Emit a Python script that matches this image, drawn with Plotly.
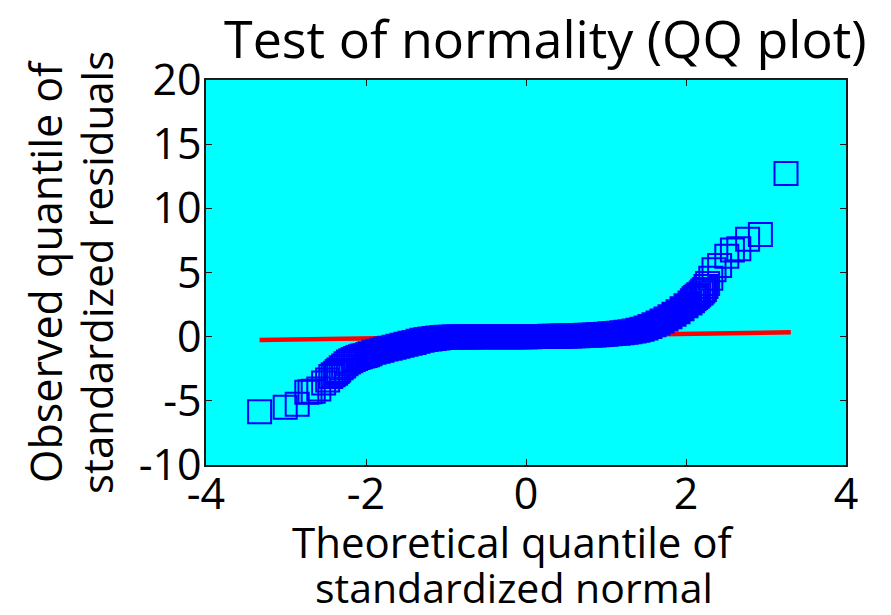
import plotly.graph_objects as go

# ---- data ----
# dense central part of the QQ curve (theoretical quantile, observed quantile)
core_x = [-1.95, -1.90, -1.85, -1.80, -1.75, -1.70, -1.65, -1.60, -1.55, -1.50,
          -1.45, -1.40, -1.35, -1.30, -1.25, -1.20, -1.15, -1.10, -1.05, -1.00,
          -0.95, -0.90, -0.85, -0.80, -0.75, -0.70, -0.65, -0.60, -0.55, -0.50,
          -0.45, -0.40, -0.35, -0.30, -0.25, -0.20, -0.15, -0.10, -0.05, 0.00,
          0.05, 0.10, 0.15, 0.20, 0.25, 0.30, 0.35, 0.40, 0.45, 0.50,
          0.55, 0.60, 0.65, 0.70, 0.75, 0.80, 0.85, 0.90, 0.95, 1.00,
          1.05, 1.10, 1.15, 1.20, 1.25, 1.30, 1.35, 1.40, 1.45, 1.50,
          1.55, 1.60, 1.65, 1.70, 1.75, 1.80, 1.85, 1.90, 1.95, 2.00, 2.05]
core_y = [-1.33, -1.22, -1.13, -1.05, -0.97, -0.90, -0.82, -0.75, -0.67, -0.60,
          -0.52, -0.45, -0.36, -0.28, -0.23, -0.18, -0.14, -0.10, -0.07, -0.05,
          -0.04, -0.03, -0.03, -0.02, -0.02, -0.02, -0.01, -0.01, -0.01, -0.01,
          0.00, 0.00, 0.00, 0.00, 0.00, 0.00, 0.00, 0.00, 0.00, 0.00,
          0.00, 0.01, 0.01, 0.02, 0.02, 0.03, 0.03, 0.04, 0.05, 0.05,
          0.06, 0.07, 0.08, 0.09, 0.11, 0.12, 0.13, 0.15, 0.17, 0.19,
          0.22, 0.25, 0.27, 0.30, 0.34, 0.38, 0.44, 0.50, 0.58, 0.68,
          0.80, 0.92, 1.07, 1.22, 1.38, 1.55, 1.75, 1.95, 2.17, 2.40, 2.62]

# sparse tails of the QQ curve
tail_x = [-3.33, -3.01, -2.86, -2.74, -2.70, -2.66, -2.59, -2.53, -2.48, -2.44,
          -2.41, -2.38, -2.36, -2.34, -2.31, -2.28, -2.25, -2.22, -2.19, -2.16,
          -2.13, -2.10, -2.07, -2.04, -2.01, -1.98,
          2.08, 2.10, 2.12, 2.14, 2.16, 2.19, 2.21, 2.23, 2.25, 2.27,
          2.31, 2.35, 2.42, 2.51, 2.58, 2.66, 2.77, 2.93, 3.25]
tail_y = [-5.86, -5.50, -5.26, -4.34, -4.30, -4.26, -4.08, -3.62, -3.37, -3.11,
          -2.97, -2.85, -2.72, -2.59, -2.42, -2.28, -2.12, -1.98, -1.88, -1.78,
          -1.70, -1.62, -1.56, -1.51, -1.46, -1.40,
          2.80, 2.95, 3.05, 3.15, 3.27, 3.40, 3.55, 3.68, 3.90, 4.15,
          4.56, 5.22, 5.55, 6.26, 6.75, 6.85, 7.60, 7.96, 12.72]

# reference (fitted) line
ref_x = [-3.33, 3.31]
ref_y = [-0.26, 0.34]

x_ticks = [-4, -2, 0, 2, 4]
x_tick_text = ["-4", "-2", "0", "2", "4"]
y_ticks = [-10, -5, 0, 5, 10, 15, 20]
y_tick_text = ["-10", "-5", "0", "5", "10", "15", "20"]

title_text = "Test of normality (QQ plot)"
xlabel_lines = ["Theoretical quantile of", "standardized normal"]
ylabel_lines = ["Observed quantile of", "standardized residuals"]

FONT = "Open Sans"
BLUE = "#0000FF"

fig = go.Figure()
fig.add_trace(go.Scatter(x=ref_x, y=ref_y, mode="lines",
                         line=dict(color="#FF0000", width=4.5), hoverinfo="skip"))
fig.add_trace(go.Scatter(x=core_x, y=core_y, mode="markers",
                         marker=dict(symbol="square", size=23, color=BLUE,
                                     line=dict(color=BLUE, width=2))))
fig.add_trace(go.Scatter(x=tail_x, y=tail_y, mode="markers",
                         marker=dict(symbol="square-open", size=23, color=BLUE,
                                     line=dict(color=BLUE, width=2))))

axis_common = dict(showgrid=False, zeroline=False, showline=True,
                   linecolor="#1a1a1a", linewidth=1.5, mirror="ticks",
                   ticks="inside", ticklen=6, tickwidth=1.2, tickcolor="#1a1a1a",
                   tickfont=dict(family=FONT, size=43, color="black"))

fig.update_layout(
    width=891, height=615,
    margin=dict(l=206, r=45, t=80, b=150),
    paper_bgcolor="white", plot_bgcolor="#00FFFF",
    showlegend=False,
    xaxis=dict(range=[-4, 4], tickvals=x_ticks, ticktext=x_tick_text,
               ticklabelstandoff=-9, **axis_common),
    yaxis=dict(range=[-10, 20], tickvals=y_ticks, ticktext=y_tick_text,
               ticklabelstandoff=-6, **axis_common),
)

# pixel helpers for text placement (plot area 206..846 x, 80..465 y)
def px(xp):
    return (xp - 206) / 640.0

def py(yp):
    return (465 - yp) / 385.0

ann = []
ann.append(dict(text=title_text, x=px(545), y=py(37), xref="paper", yref="paper",
                xanchor="center", yanchor="middle", showarrow=False,
                font=dict(family=FONT, size=52, color="black")))
ann.append(dict(text=xlabel_lines[0], x=px(513), y=py(541), xref="paper", yref="paper",
                xanchor="center", yanchor="middle", showarrow=False,
                font=dict(family=FONT, size=42, color="black")))
ann.append(dict(text=xlabel_lines[1], x=px(514), y=py(587), xref="paper", yref="paper",
                xanchor="center", yanchor="middle", showarrow=False,
                font=dict(family=FONT, size=41, color="black")))
ann.append(dict(text=ylabel_lines[0], x=px(45), y=py(272), xref="paper", yref="paper",
                xanchor="center", yanchor="middle", showarrow=False, textangle=-90,
                font=dict(family=FONT, size=43, color="black")))
ann.append(dict(text=ylabel_lines[1], x=px(96), y=py(273), xref="paper", yref="paper",
                xanchor="center", yanchor="middle", showarrow=False, textangle=-90,
                font=dict(family=FONT, size=42, color="black")))
fig.update_layout(annotations=ann)

fig.write_html("out.html")
